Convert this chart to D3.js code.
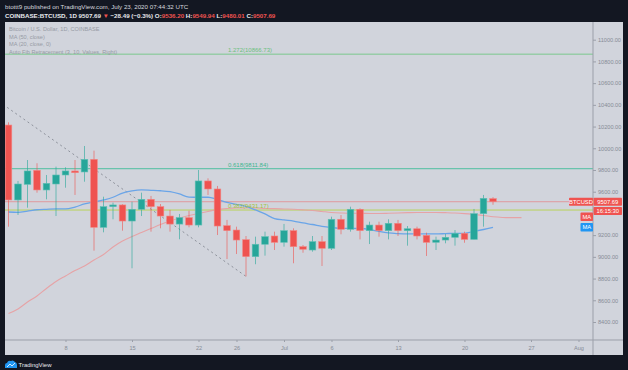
<!DOCTYPE html>
<html>
<head>
<meta charset="utf-8">
<script src="https://d3js.org/d3.v7.min.js"></script>
<style>
  body { margin: 0; background: #131722; }
  svg { display: block; font-family: "Liberation Sans", Arial, sans-serif; }
</style>
</head>
<body>
<div id="chart"></div>
<script>

// daily candles, Jun 2 -> Jul 23 2020
var opens  = [10214, 9524, 9668, 9797, 9616, 9671, 9754, 9791, 9782, 9898, 9272, 9462, 9478, 9330, 9438, 9530, 9462, 9376, 9302, 9361,
              9293, 9699, 9625, 9287, 9247, 9158, 9002, 9116, 9192, 9134, 9241, 9094, 9063, 9140, 9079, 9346, 9254, 9438, 9241, 9293,
              9241, 9309, 9241, 9259, 9198, 9134, 9155, 9180, 9217, 9161, 9398, 9536.20];
var highs  = [10239, 9699, 9892, 9862, 9754, 9831, 9825, 9892, 10021, 9978, 9554, 9499, 9485, 9508, 9591, 9561, 9487, 9432, 9395, 9425,
              9800, 9723, 9653, 9340, 9278, 9192, 9186, 9232, 9232, 9303, 9263, 9109, 9192, 9192, 9370, 9385, 9462, 9447, 9324, 9324,
              9346, 9340, 9284, 9278, 9223, 9186, 9210, 9247, 9232, 9441, 9570, 9549.94];
var lows   = [9278, 9386, 9453, 9591, 9530, 9376, 9637, 9570, 9692, 9057, 9226, 9346, 9241, 8895, 9376, 9232, 9263, 9232, 9162, 9272,
              9272, 9570, 9201, 8980, 9026, 8820, 8932, 9011, 9063, 9094, 8941, 9038, 9048, 8916, 9063, 9208, 9232, 9161, 9118, 9186,
              9161, 9192, 9103, 9161, 9008, 9063, 9125, 9103, 9130, 9161, 9278, 9480.01];
var closes = [9524, 9671, 9791, 9616, 9677, 9754, 9791, 9775, 9898, 9272, 9462, 9478, 9330, 9438, 9530, 9462, 9376, 9302, 9361, 9293,
              9699, 9625, 9284, 9241, 9155, 9002, 9116, 9186, 9134, 9241, 9094, 9070, 9140, 9079, 9346, 9254, 9438, 9241, 9293, 9241,
              9309, 9241, 9259, 9192, 9134, 9155, 9180, 9217, 9161, 9398, 9539, 9507.69];

// MA (20) - blue, one value per candle
var ma20 = [9413, 9410, 9422, 9434, 9438, 9441, 9441, 9459, 9487, 9505, 9524, 9549, 9588, 9607, 9616, 9613, 9609, 9600, 9579, 9551,
            9549, 9549, 9528, 9501, 9484, 9464, 9432, 9395, 9353, 9340, 9330, 9312, 9298, 9281, 9270, 9263, 9263, 9261, 9252, 9234,
            9220, 9214, 9211, 9211, 9211, 9211, 9214, 9217, 9217, 9234, 9252, 9272];
// MA (50) - red, runs 3 days past the last candle
var ma50 = [8478, 8520, 8584, 8640, 8709, 8773, 8824, 8874, 8916, 8971, 9022, 9091, 9146, 9188, 9224, 9261, 9298, 9330, 9358, 9381,
            9399, 9418, 9436, 9445, 9450, 9450, 9450, 9445, 9444, 9441, 9438, 9433, 9427, 9418, 9409, 9404, 9401, 9401, 9399, 9399,
            9401, 9404, 9407, 9409, 9409, 9409, 9407, 9404, 9398, 9390, 9381, 9369, 9363, 9361, 9361];

var fibLevels = ["1.272", "0.618", "0.382"];
var fibPrices = [10866.73, 9811.84, 9431.17];
var fibColors = ["#7cc98e", "#4fbfa0", "#b9d35a"];

var trendDates  = ["2020-06-01", "2020-06-27"];
var trendPrices = [10430, 8820];

var yTicks = [8400, 8600, 8800, 9000, 9200, 9600, 9800, 10000, 10200, 10400, 10600, 10800, 11000];
var xTickDates  = ["2020-06-08", "2020-06-15", "2020-06-22", "2020-06-26", "2020-07-01", "2020-07-06", "2020-07-13", "2020-07-20", "2020-07-27", "2020-08-01"];
var xTickLabels = ["8", "15", "22", "26", "Jul", "6", "13", "20", "27", "Aug"];

var lastPrice = 9507.69;

var W = 628, H = 370;
var plotL = 5, plotT = 22, plotR = 593, plotB = 340, panelR = 623, axisB = 355;

var parse = d3.utcParse("%Y-%m-%d");
var start = parse("2020-06-02");
var dates = d3.utcDays(start, d3.utcDay.offset(start, opens.length));
var maDates = d3.utcDays(start, d3.utcDay.offset(start, ma50.length));

var x = d3.scaleUtc()
    .domain([parse("2020-06-01"), parse("2020-08-01")])
    .range([-1, 578.5]);
var y = d3.scaleLinear()
    .domain([8400, 11000])
    .range([322, 39.7]);

var green = "#26a69a", red = "#ef5350", bg = "#d1d4dc", txt = "#868b96", axisCol = "#9b9fa9";

var svg = d3.select("#chart").append("svg")
    .attr("width", W).attr("height", H);

svg.append("rect").attr("width", W).attr("height", H).attr("fill", "#131722");
svg.append("rect").attr("x", plotL).attr("y", plotT)
    .attr("width", panelR - plotL).attr("height", axisB - plotT).attr("fill", bg);

svg.append("clipPath").attr("id", "clip")
  .append("rect").attr("x", plotL).attr("y", plotT).attr("width", plotR - plotL).attr("height", plotB - plotT);

var plot = svg.append("g").attr("clip-path", "url(#clip)");

// fib lines
fibPrices.forEach(function (p, i) {
  plot.append("line")
      .attr("x1", plotL).attr("x2", plotR)
      .attr("y1", y(p)).attr("y2", y(p))
      .attr("stroke", fibColors[i]).attr("stroke-width", 1);
});

// last price line
plot.append("line")
    .attr("x1", plotL).attr("x2", plotR)
    .attr("y1", y(lastPrice)).attr("y2", y(lastPrice))
    .attr("stroke", red).attr("stroke-opacity", 0.45).attr("stroke-width", 1);

// trend line
plot.append("line")
    .attr("x1", x(parse(trendDates[0]))).attr("y1", y(trendPrices[0]))
    .attr("x2", x(parse(trendDates[1]))).attr("y2", y(trendPrices[1]))
    .attr("stroke", "#8d919b").attr("stroke-width", 1).attr("stroke-dasharray", "2,3");

// moving averages
var line = d3.line().x(function (d) { return x(d[0]); }).y(function (d) { return y(d[1]); }).curve(d3.curveMonotoneX);
plot.append("path")
    .attr("d", line(maDates.map(function (d, i) { return [d, ma50[i]]; })))
    .attr("fill", "none").attr("stroke", "#e6a3a6").attr("stroke-width", 1.1);
plot.append("path")
    .attr("d", line(dates.map(function (d, i) { return [d, ma20[i]]; })))
    .attr("fill", "none").attr("stroke", "#6aa5e8").attr("stroke-width", 1.3);

// candles
var bw = 6.6;
var candles = plot.selectAll(".candle")
    .data(dates)
    .enter().append("g")
    .attr("class", "candle");

candles.append("line")
    .attr("x1", function (d) { return x(d); })
    .attr("x2", function (d) { return x(d); })
    .attr("y1", function (d, i) { return y(highs[i]); })
    .attr("y2", function (d, i) { return y(lows[i]); })
    .attr("stroke", function (d, i) { return closes[i] >= opens[i] ? green : red; })
    .attr("stroke-opacity", 0.6)
    .attr("stroke-width", 1);

candles.append("rect")
    .attr("x", function (d) { return x(d) - bw / 2; })
    .attr("width", bw)
    .attr("y", function (d, i) { return y(Math.max(opens[i], closes[i])); })
    .attr("height", function (d, i) { return Math.max(1, Math.abs(y(opens[i]) - y(closes[i]))); })
    .attr("fill", function (d, i) { return closes[i] >= opens[i] ? green : red; })
    .attr("stroke", function (d, i) { return closes[i] >= opens[i] ? "#5fbfb4" : "#f28583"; })
    .attr("stroke-width", 0.6);

// fib labels
fibPrices.forEach(function (p, i) {
  plot.append("text")
      .attr("x", 228).attr("y", y(p) - 2)
      .attr("font-size", "6px")
      .attr("fill", i == 2 ? "#9fc23f" : (i == 1 ? "#3fb48f" : "#6cbf7f"))
      .text(fibLevels[i] + "(" + d3.format(".2f")(p) + ")");
});

// legend
var legend = ["Bitcoin / U.S. Dollar, 1D, COINBASE", "MA (50, close)", "MA (20, close, 0)", "Auto Fib Retracement (3, 10, Values, Right)"];
svg.selectAll(".legend")
    .data(legend)
    .enter().append("text")
    .attr("class", "legend")
    .attr("x", 9)
    .attr("y", function (d, i) { return 31 + i * 7.6; })
    .attr("font-size", "5.6px")
    .attr("fill", "#979ba5")
    .text(function (d) { return d; });

// axes
svg.append("line").attr("x1", plotR).attr("x2", plotR).attr("y1", plotT).attr("y2", axisB)
    .attr("stroke", axisCol).attr("stroke-width", 1);
svg.append("line").attr("x1", plotL).attr("x2", panelR).attr("y1", plotB).attr("y2", plotB)
    .attr("stroke", axisCol).attr("stroke-width", 1);

var yAxis = svg.append("g").attr("transform", "translate(" + plotR + ",0)")
    .call(d3.axisRight(y).tickValues(yTicks).tickSize(3).tickPadding(2).tickFormat(d3.format(".2f")));
yAxis.select(".domain").remove();
yAxis.selectAll("line").attr("stroke", axisCol);
yAxis.selectAll("text").attr("font-size", "5.6px").attr("fill", txt).attr("font-family", "Liberation Sans, Arial, sans-serif");

var xAxis = svg.append("g").attr("transform", "translate(0," + plotB + ")")
    .call(d3.axisBottom(x).tickValues(xTickDates.map(parse)).tickSize(2).tickPadding(4)
      .tickFormat(function (d, i) { return xTickLabels[i]; }));
xAxis.select(".domain").remove();
xAxis.selectAll("line").attr("stroke", axisCol);
xAxis.selectAll("text").attr("font-size", "5.6px").attr("fill", txt).attr("font-family", "Liberation Sans, Arial, sans-serif");

// price badges
function badge(x0, yc, w, h, fill, label) {
  svg.append("rect").attr("x", x0).attr("y", yc - h / 2).attr("width", w).attr("height", h)
      .attr("fill", fill).attr("rx", 0.8);
  svg.append("text").attr("x", x0 + w / 2).attr("y", yc + 2)
      .attr("text-anchor", "middle").attr("font-size", "5.8px").attr("fill", "#ffffff")
      .text(label);
}
badge(569, y(lastPrice), 24, 8, red, "BTCUSD");
badge(593.5, y(lastPrice), 28.5, 8, red, d3.format(".2f")(lastPrice));
badge(593.5, y(lastPrice) + 9.2, 28.5, 8, red, "16:15:30");
badge(580.5, y(ma50[opens.length - 1]), 12.5, 8.4, red, "MA");
badge(580.5, y(ma20[ma20.length - 1]), 12.5, 8.4, "#2196f3", "MA");

// header
svg.append("text").attr("x", 5).attr("y", 9).attr("font-size", "6.2px").attr("fill", "#d6d8de")
    .text("btottt9 published on TradingView.com, July 23, 2020 07:44:32 UTC");
var h2 = svg.append("text").attr("x", 5).attr("y", 17.5).attr("font-size", "6.2px").attr("font-weight", "bold").attr("fill", "#e8e9ed");
h2.append("tspan").text("COINBASE:BTCUSD, 1D  9507.69 ");
h2.append("tspan").attr("fill", red).text("\u25BC");
h2.append("tspan").text(" \u221228.49 (\u22120.3%) O:");
h2.append("tspan").attr("fill", red).text("9536.20");
h2.append("tspan").text(" H:");
h2.append("tspan").attr("fill", red).text("9549.94");
h2.append("tspan").text(" L:");
h2.append("tspan").attr("fill", red).text("9480.01");
h2.append("tspan").text(" C:");
h2.append("tspan").attr("fill", red).text("9507.69");

// footer logo
var logo = svg.append("g").attr("transform", "translate(5,360)");
logo.append("path")
    .attr("d", "M0,8 L0,5 Q0,3 2,3 Q3,0 6,1 Q8,-0.5 10,2 Q12,2.5 12,5 L12,8 Z")
    .attr("fill", "#2196f3");
logo.append("path").attr("d", "M2,7 L5,4 L7,6 L10,3").attr("fill", "none").attr("stroke", "#ffffff").attr("stroke-width", 0.8);
svg.append("text").attr("x", 18.5).attr("y", 367).attr("font-size", "6px").attr("fill", "#e8e9ed")
    .text("TradingView");

</script>
</body>
</html>
